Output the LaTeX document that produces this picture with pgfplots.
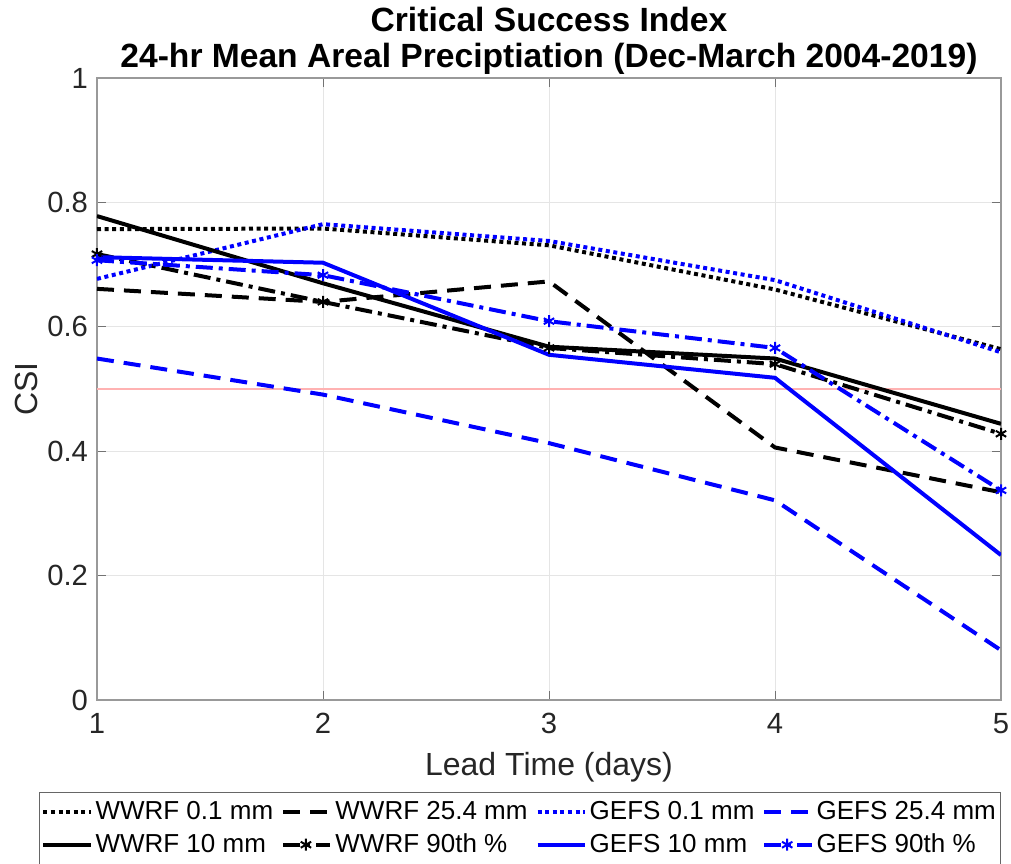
\documentclass[border=0pt]{standalone}
\usepackage{fontspec}
\setmainfont{Liberation Sans}
\usepackage{pgfplots}
\pgfplotsset{compat=1.18}
\definecolor{axgray}{gray}{0.15}
\definecolor{mblue}{rgb}{0,0,1}
\begin{document}
\begin{tikzpicture}
\begin{axis}[
  scale only axis, width=452pt, height=311pt,
  xmin=1, xmax=5, ymin=0, ymax=1,
  xtick={1,2,3,4,5}, ytick={0,0.2,0.4,0.6,0.8,1},
  yticklabels={0,0.2,0.4,0.6,0.8,1},
  /pgf/number format/assume math mode=true,
  tick align=inside, major tick length=4.5pt,
  tick style={black!55, line width=0.5pt},
  axis line style={black!40, line width=0.6pt},
  grid=major, major grid style={black!10, line width=0.5pt},
  ticklabel style={font=\fontsize{14.6}{17}\selectfont, text=axgray},
  xticklabel style={yshift=-3pt},
  yticklabel style={xshift=-1pt},
  xlabel={Lead Time (days)}, ylabel={CSI},
  label style={font=\fontsize{16}{19}\selectfont, text=axgray},
  xlabel style={yshift=-2.5pt},
  ylabel style={yshift=-2pt},
  title={\textbf{Critical Success Index}\\\textbf{24-hr Mean Areal Preciptiation (Dec-March 2004-2019)}},
  title style={align=center, font=\fontsize{16.8}{18}\selectfont, yshift=-8pt},
  legend columns=4,
  legend style={at={(0.468,-0.148)}, anchor=north, draw=black!60, line width=0.6pt,
    font=\fontsize{13}{15}\selectfont, inner xsep=1pt, inner ysep=2.5pt,
    row sep=1.5pt,
    nodes={inner xsep=1.5pt, inner ysep=2pt},
    /tikz/every even column/.append style={column sep=2.5pt},
    cells={anchor=west}},
  legend image code/.code={\draw[mark repeat=2,mark phase=2] plot coordinates {(0cm,0cm)(0.4cm,0cm)(0.83cm,0cm)};},
  every axis plot/.append style={line width=2pt},
]
\addplot[red!30, line width=0.6pt, forget plot] coordinates {(1,0.5)(5,0.5)};
% WWRF 0.1 mm
\addplot[black, dash pattern=on 2pt off 1.8pt] coordinates {(1,0.757)(2,0.758)(3,0.731)(4,0.660)(5,0.564)};
\addlegendentry{WWRF 0.1 mm}
% WWRF 25.4 mm
\addplot[black, dash pattern=on 8.5pt off 5pt] coordinates {(1,0.661)(2,0.640)(3,0.673)(4,0.406)(5,0.334)};
\addlegendentry{WWRF 25.4 mm}
% GEFS 0.1 mm
\addplot[mblue, dash pattern=on 2pt off 1.8pt] coordinates {(1,0.677)(2,0.765)(3,0.738)(4,0.675)(5,0.559)};
\addlegendentry{GEFS 0.1 mm}
% GEFS 25.4 mm
\addplot[mblue, dash pattern=on 8.5pt off 5pt] coordinates {(1,0.549)(2,0.491)(3,0.413)(4,0.321)(5,0.080)};
\addlegendentry{GEFS 25.4 mm}
% WWRF 10 mm
\addplot[black, solid] coordinates {(1,0.778)(2,0.670)(3,0.568)(4,0.549)(5,0.444)};
\addlegendentry{WWRF 10 mm}
% WWRF 90th
\addplot[black, dash pattern=on 8.5pt off 3pt on 2pt off 3pt, mark=asterisk, mark size=3pt, mark options={solid, line width=1pt}] coordinates {(1,0.717)(2,0.640)(3,0.566)(4,0.540)(5,0.428)};
\addlegendentry{WWRF 90th \%}
% GEFS 10 mm
\addplot[mblue, solid] coordinates {(1,0.712)(2,0.703)(3,0.555)(4,0.518)(5,0.233)};
\addlegendentry{GEFS 10 mm}
% GEFS 90th
\addplot[mblue, dash pattern=on 8.5pt off 3pt on 2pt off 3pt, mark=asterisk, mark size=3pt, mark options={solid, line width=1pt}] coordinates {(1,0.707)(2,0.683)(3,0.609)(4,0.566)(5,0.337)};
\addlegendentry{GEFS 90th \%}
\end{axis}
\pgfresetboundingbox
\path ([xshift=-48.5pt,yshift=-81.5pt]current axis.south west) rectangle ([xshift=5pt,yshift=39pt]current axis.north east);
\end{tikzpicture}
\end{document}
